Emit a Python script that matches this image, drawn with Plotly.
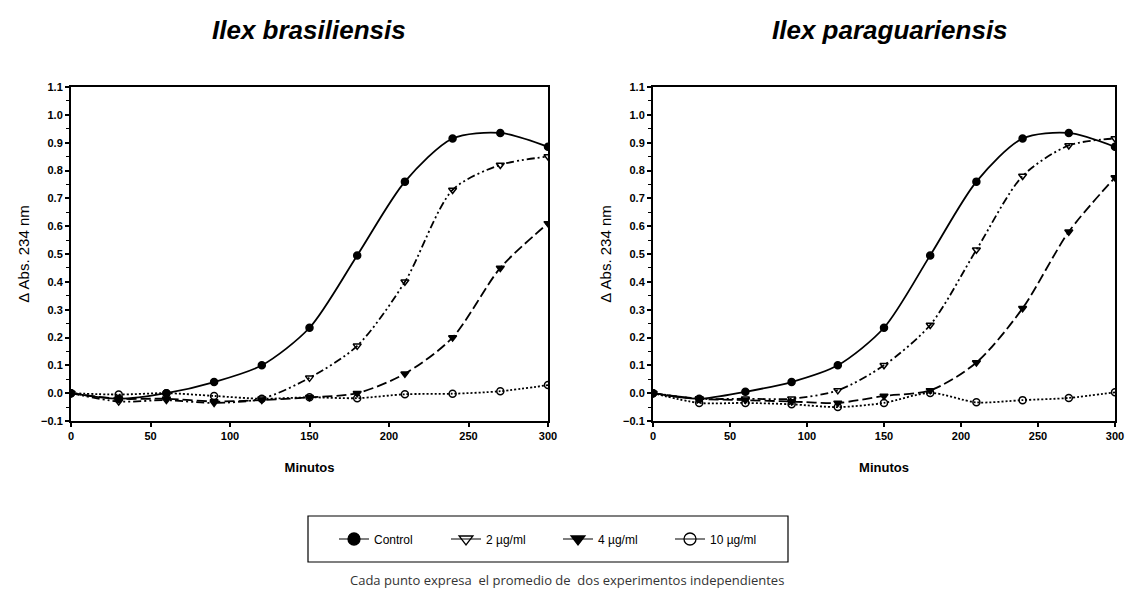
import plotly.graph_objects as go

# minutes
minutos = [0, 30, 60, 90, 120, 150, 180, 210, 240, 270, 300]

# Ilex brasiliensis
bra_control = [0.0, -0.02, 0.0, 0.04, 0.10, 0.235, 0.495, 0.76, 0.915, 0.935, 0.885]
bra_2 = [0.0, -0.03, -0.025, -0.035, -0.02, 0.055, 0.17, 0.40, 0.73, 0.82, 0.85]
bra_4 = [0.0, -0.02, -0.02, -0.03, -0.025, -0.015, 0.0, 0.07, 0.20, 0.45, 0.61]
bra_10 = [0.0, -0.005, 0.0, -0.01, -0.02, -0.015, -0.018, -0.004, -0.002, 0.007, 0.029]

# Ilex paraguariensis
par_control = [0.0, -0.02, 0.005, 0.04, 0.10, 0.235, 0.495, 0.76, 0.915, 0.935, 0.885]
par_2 = [0.0, -0.02, -0.02, -0.02, 0.01, 0.10, 0.245, 0.515, 0.78, 0.89, 0.915]
par_4 = [0.0, -0.02, -0.025, -0.03, -0.035, -0.01, 0.01, 0.11, 0.305, 0.58, 0.775]
par_10 = [0.0, -0.035, -0.035, -0.04, -0.05, -0.035, 0.001, -0.033, -0.025, -0.017, 0.003]

titles = ["Ilex brasiliensis", "Ilex paraguariensis"]
legend_names = ["Control", "2 µg/ml", "4 µg/ml", "10 µg/ml"]

# page has an 8px body margin: positions below are page pixels, shifted by 8
OFF = 8
W, H = 1136 - 2 * OFF, 596 - 2 * OFF
FONT = "Liberation Sans, Arial, sans-serif"

# style per series: (marker symbol, dash)
styles = [
    ("circle", "solid"),
    ("triangle-down-open", "8px,3px,2px,3px,2px,3px"),
    ("triangle-down", "10px,4px"),
    ("circle-open", "2px,2px"),
]

fig = go.Figure()

panels = [
    ("x", "y", [bra_control, bra_2, bra_4, bra_10]),
    ("x2", "y2", [par_control, par_2, par_4, par_10]),
]
for xa, ya, series in panels:
    for vals, (sym, dash) in zip(series, styles):
        fig.add_trace(go.Scatter(
            x=minutos, y=vals, xaxis=xa, yaxis=ya, mode="lines+markers",
            line=dict(color="black", width=1.8, dash=dash, shape="spline", smoothing=0.8),
            marker=dict(symbol=sym, size=7, color="black", line=dict(color="black", width=1.5)),
            showlegend=False, hoverinfo="x+y",
        ))

# legend-only entries with solid lines like the original key
for name, (sym, _) in zip(legend_names, styles):
    fig.add_trace(go.Scatter(
        x=[None], y=[None], mode="lines+markers", name=name,
        line=dict(color="black", width=1.2),
        marker=dict(symbol=sym, size=12, color="black", line=dict(color="black", width=1.3)),
    ))

def px_x(p):
    return (p - OFF) / W

def px_y(p):
    return 1 - (p - OFF) / H

xdom = [(px_x(71), px_x(548)), (px_x(653), px_x(1115))]
ydom = (px_y(421), px_y(87))
title_x = [309, 890]

axis_common = dict(
    showline=True, linecolor="black", linewidth=2, mirror=True,
    ticks="outside", tickcolor="black", ticklen=4, tickwidth=1.5,
    showgrid=False, zeroline=False, automargin=False,
    tickfont=dict(family=FONT, size=11, color="black", weight="bold"),
)

for xd, key in zip(xdom, ["", "2"]):
    fig.update_layout({
        f"xaxis{key}": dict(
            axis_common, domain=list(xd), range=[0, 300], tickvals=[0, 50, 100, 150, 200, 250, 300],
            anchor=f"y{key}",
            title=dict(text="<b>Minutos</b>", font=dict(family=FONT, size=13, color="black"), standoff=22),
        ),
        f"yaxis{key}": dict(
            axis_common, domain=list(ydom), range=[-0.1, 1.1], dtick=0.1, tick0=0, tickformat=".1f",
            anchor=f"x{key}",
            minor=dict(ticks="outside", dtick=0.05, ticklen=3, tickcolor="black", tickwidth=1),
            title=dict(text="Δ Abs. 234 nm", font=dict(family=FONT, size=15, color="black"), standoff=8),
        ),
    })

annotations = []
for t, tx in zip(titles, title_x):
    annotations.append(dict(
        text=f"<b><i>{t}</i></b>", x=px_x(tx), y=px_y(30),
        xref="paper", yref="paper", showarrow=False, xanchor="center", yanchor="middle",
        font=dict(family=FONT, size=26, color="black"),
    ))
annotations.append(dict(
    text="Cada punto expresa&nbsp; el promedio de&nbsp; dos experimentos independientes",
    x=px_x(567), y=px_y(580), xref="paper", yref="paper", showarrow=False,
    xanchor="center", yanchor="middle",
    font=dict(family="Open Sans, sans-serif", size=13, color="#333333"),
))

fig.update_layout(
    width=W, height=H,
    margin=dict(l=0, r=0, t=0, b=0),
    paper_bgcolor="white", plot_bgcolor="white",
    annotations=annotations,
    shapes=[dict(type="rect", xref="paper", yref="paper",
                 x0=px_x(308), x1=px_x(788), y0=px_y(562), y1=px_y(516),
                 line=dict(color="black", width=1.2), fillcolor="rgba(0,0,0,0)")],
    legend=dict(
        orientation="h", x=px_x(334), y=px_y(539), xanchor="left", yanchor="middle",
        bgcolor="rgba(0,0,0,0)", borderwidth=0, entrywidth=67, itemsizing="trace",
        font=dict(family=FONT, size=12, color="black"),
    ),
)

fig.write_html("out.html")
